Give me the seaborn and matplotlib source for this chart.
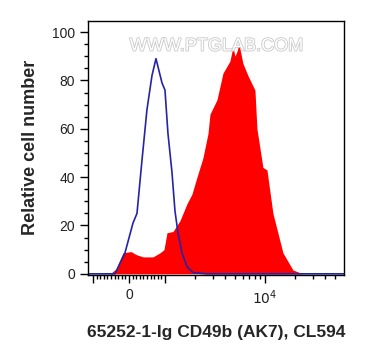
"""Flow cytometry overlay histogram: CD49b staining vs isotype control."""
import matplotlib
matplotlib.use('Agg')
import matplotlib.pyplot as plt
import matplotlib.patheffects as pe
import numpy as np
import seaborn as sns

# display channel (0..256 across the plot) and relative cell number
red_chan = [22, 28, 35, 43, 48, 55, 65, 72, 76, 79, 85, 92, 99, 104, 109,
            115, 120, 122, 129, 135, 142, 145, 147, 149, 151, 155, 160, 167,
            169, 175, 179, 185, 195, 205, 215]
red_count = [0, 2, 8.7, 9.2, 8, 7, 7, 8.7, 10, 17, 17.5, 22, 29, 33, 40,
             48, 58, 66, 72, 83, 88, 94, 90, 92, 95, 87, 82, 76,
             60, 44, 43, 25, 8.7, 1.6, 0]

blue_chan = [0, 27, 37, 45, 49, 54, 59, 64, 68, 71, 74, 77, 80, 84, 87, 90,
             94, 99, 105, 119, 256]
blue_count = [0, 0, 8.7, 21, 25, 47, 68, 82, 89, 84, 79, 76, 58, 42, 26, 17,
              8.7, 3, 0.5, 0, 0]

x_label = '65252-1-Ig CD49b (AK7), CL594'
y_label = 'Relative cell number'


def to_chan(v):
    """Logicle-like mapping from fluorescence value to display channel."""
    v = np.asarray(v, dtype=float)
    lin = 41 + 36 * v / 1000
    log = 77 + 100 * np.log10(np.clip(v, 1000, None) / 1000)
    return np.where(np.abs(v) <= 1000, lin, log)


sns.set_style('ticks')
plt.rcParams['font.family'] = ['Liberation Sans', 'DejaVu Sans']

fig = plt.figure(figsize=(3.69, 3.6), dpi=100)
ax = fig.add_axes([0.2385, 0.236, 0.6935, 0.7065])

ax.fill_between(red_chan, red_count, 0, color='#ff0000', linewidth=0)
sns.lineplot(x=blue_chan, y=blue_count, ax=ax, color='#2424a6',
             linewidth=1.2, sort=False)

ax.set_xlim(0, 256)
ax.set_ylim(-0.5, 104.7)

# y ticks
ax.set_yticks(range(0, 101, 20))
ax.set_yticks(range(0, 101, 5), minor=True)

# x ticks on the transformed scale
majors = [-1000, 0, 1000, 10000]
minors = list(range(-900, 1000, 100)) + [k * 1000 for k in range(2, 10)] \
    + [k * 10000 for k in range(2, 6)]
ax.set_xticks(to_chan(majors))
ax.set_xticklabels(['', '0', '', '$10^4$'])
ax.set_xticks(to_chan(minors), minor=True)

ax.tick_params(axis='both', which='major', length=6, width=1, color='black',
               labelsize=10, labelcolor='#222222', direction='out')
ax.tick_params(axis='both', which='minor', length=3, width=1, color='black',
               direction='out')
for side in ['top', 'right', 'left', 'bottom']:
    ax.spines[side].set_visible(True)
    ax.spines[side].set_color('black')
    ax.spines[side].set_linewidth(1)

ax.set_xlabel(x_label, fontsize=12.5, fontweight='bold', labelpad=13)
ax.set_ylabel(y_label, fontsize=13, fontweight='bold', labelpad=9)

# watermark
ax.text(0.5, 0.9, 'WWW.PTGLAB.COM', transform=ax.transAxes, ha='center',
        va='center', fontsize=13, color='white',
        path_effects=[pe.withStroke(linewidth=1.2, foreground='#c8c8c8')])

fig.savefig('out.png', dpi=100)
